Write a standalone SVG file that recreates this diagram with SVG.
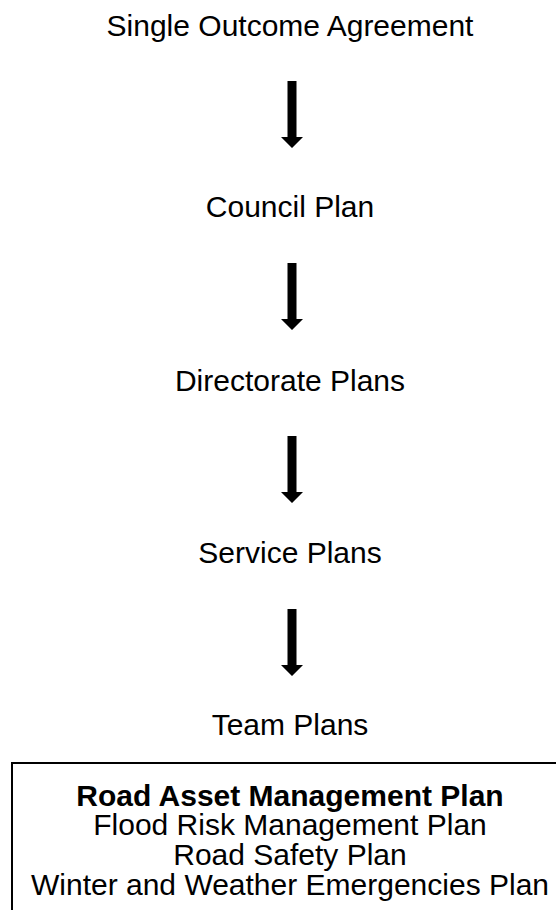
<svg xmlns="http://www.w3.org/2000/svg" width="556" height="910" viewBox="0 0 556 910">
  <style>
    .lbl { font-family: "Liberation Sans", Arial, sans-serif; font-size: 30px; fill: #000; text-anchor: middle; }
    .bold { font-weight: bold; }
    .box { fill: none; stroke: #000; stroke-width: 2; }
    .arrow { fill: #000; }
  </style>
  <defs>
    <!-- block arrow pointing down, tip at origin -->
    <path id="down-arrow" class="arrow" d="M -4.5 -67 L 4.5 -67 L 4.5 -11 L 11 -11 L 0 0 L -11 -11 L -4.5 -11 Z"/>
  </defs>

  <g id="single-outcome-agreement">
    <text class="lbl" x="290" y="36">Single Outcome Agreement</text>
  </g>
  <g id="council-plan">
    <text class="lbl" x="290" y="217">Council Plan</text>
  </g>
  <g id="directorate-plans">
    <text class="lbl" x="290" y="391">Directorate Plans</text>
  </g>
  <g id="service-plans">
    <text class="lbl" x="290" y="563">Service Plans</text>
  </g>
  <g id="team-plans">
    <text class="lbl" x="290" y="735">Team Plans</text>
  </g>
  <g id="team-plan-list">
    <rect class="box" x="12" y="763" width="560" height="170"/>
    <text class="lbl bold" x="290" y="806">Road Asset Management Plan</text>
    <text class="lbl" x="290" y="835">Flood Risk Management Plan</text>
    <text class="lbl" x="290" y="865">Road Safety Plan</text>
    <text class="lbl" x="290" y="895">Winter and Weather Emergencies Plan</text>
  </g>

  <g id="connectors">
    <use href="#down-arrow" x="292" y="148"/>
    <use href="#down-arrow" x="292" y="330"/>
    <use href="#down-arrow" x="292" y="503"/>
    <use href="#down-arrow" x="292" y="676"/>
  </g>
</svg>
